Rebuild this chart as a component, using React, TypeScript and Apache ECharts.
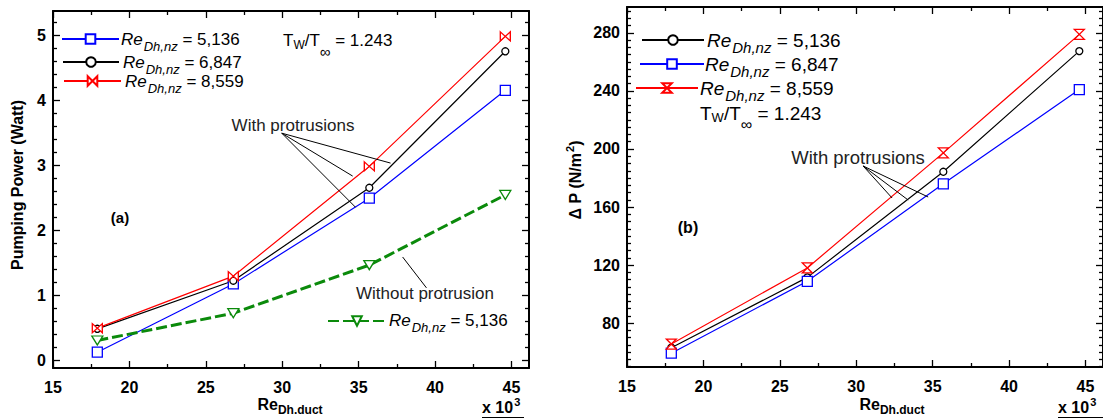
import React, { useEffect, useRef } from 'react';
import * as echarts from 'echarts';

// ---------- data ----------
const reDuct = [17.9, 26.8, 35.7, 44.6]; // Re_Dh,duct (x 10^3)

// (a) pumping power (Watt)
const powerA5136 = [0.12, 1.17, 2.49, 4.15];
const powerA6847 = [0.48, 1.22, 2.65, 4.75];
const powerA8559 = [0.49, 1.29, 2.98, 4.98];
const powerNoProt5136 = [0.3, 0.72, 1.46, 2.54];

// (b) pressure drop (N/m^2)
const dpB5136 = [63, 111.5, 184.3, 267.5];
const dpB6847 = [59.2, 108.8, 176, 241];
const dpB8559 = [65.5, 118, 197.3, 279];

// tick labels
const xTicks = [15, 20, 25, 30, 35, 40, 45];
const yTicksA = [0, 1, 2, 3, 4, 5];
const yTicksB = [80, 120, 160, 200, 240, 280];

// annotation anchors (data units) : [start, end]
const annotA_with = [
  [[29.97, 3.49], [37.09, 3.03]],
  [[29.97, 3.49], [34.61, 2.83]],
  [[29.97, 3.49], [34.8, 2.35]],
];
const annotA_without = [[[37.88, 1.585], [39.44, 1.11]]];
const annotB_with = [
  [[30.45, 188.3], [32.35, 166.2]],
  [[30.45, 188.3], [33.4, 164.8]],
  [[30.45, 188.3], [34.71, 166.9]],
];

const legendValue: Record<string, string> = {
  a5136: '5,136',
  a6847: '6,847',
  a8559: '8,559',
  aNo: '5,136',
  b5136: '5,136',
  b6847: '6,847',
  b8559: '8,559',
};

// ---------- styles ----------
const FONT = '"Liberation Sans", Arial, Helvetica, sans-serif';
const BLUE = '#0000ff';
const RED = '#ff0000';
const BLACK = '#000000';
const GREEN = '#0b8a0b';

const BOWTIE = 'path://M0,0L10,10L10,0L0,10Z';
const HOURGLASS = 'path://M0,0L10,0L0,10L10,10Z';

const X_MIN = 15;
const X_MAX = 46.15;
const YA_MIN = -0.123;
const YA_MAX = 5.37;
const YB_MIN = 49.7;
const YB_MAX = 297.9;

function minors(majors: number[], step: number, count: number, min: number, max: number) {
  const out: number[] = [];
  const ext = [majors[0] - step * (count + 1), ...majors, majors[majors.length - 1] + step * (count + 1)];
  for (const m of ext) {
    for (let k = 1; k <= count; k++) {
      const v = +(m + step * k).toFixed(4);
      if (v > min && v < max && !majors.includes(v)) out.push(v);
    }
  }
  return Array.from(new Set(out)).sort((a, b) => a - b);
}

const labelStyle = { fontFamily: FONT, fontWeight: 'bold' as const, fontSize: 16, color: '#000' };

function axisPair(
  kind: 'x' | 'y',
  gridIndex: number,
  min: number,
  max: number,
  values: number[],
  major: boolean,
  margin: number
) {
  const pos = kind === 'x' ? ['bottom', 'top'] : ['left', 'right'];
  return pos.map((p, i) => ({
    type: 'value',
    gridIndex,
    position: p,
    min,
    max,
    axisLine: { show: major, onZero: false, lineStyle: { color: '#000', width: 2 } },
    axisTick: {
      show: true,
      inside: true,
      length: major ? 7 : 4,
      customValues: values,
      lineStyle: { color: '#000', width: 1.3 },
    },
    axisLabel: {
      show: major && i === 0,
      customValues: values,
      margin,
      ...labelStyle,
    },
    splitLine: { show: false },
    minorTick: { show: false },
  }));
}

// legend: icon drawn by the legend component, label drawn as rich graphic text
function legendFor(name: string, left: number, lineY: number, width: number) {
  return {
    show: true,
    data: [name],
    left,
    top: lineY - 6,
    orient: 'vertical',
    padding: 0,
    itemWidth: width,
    itemHeight: 12,
    selectedMode: false,
    formatter: () => '',
  };
}

function richRe(big: number, small: number, drop: number) {
  return {
    a: { fontFamily: FONT, fontSize: big, fontStyle: 'italic', fill: '#000', lineHeight: big + 3 },
    b: { fontFamily: FONT, fontSize: small, fontStyle: 'italic', fill: '#000', lineHeight: small + 1, padding: [drop, 0, 0, 1] },
    c: { fontFamily: FONT, fontSize: big, fill: '#000', lineHeight: big + 3 },
  };
}
const richReA = richRe(17, 13, 14);
const richReB = richRe(19, 15, 15);

function legendText(name: string, x: number, y: number, rich: any) {
  return txt(x, y, `{a|Re}{b|Dh,nz}{c| = ${legendValue[name]}}`, { align: 'left', rich });
}

function lineSeries(
  name: string,
  values: number[],
  color: string,
  symbol: string,
  symbolSize: number | number[],
  gridAxis: number,
  extra: any = {}
) {
  return {
    name,
    type: 'line',
    xAxisIndex: gridAxis,
    yAxisIndex: gridAxis,
    data: reDuct.map((x, i) => [x, values[i]]),
    symbol,
    symbolSize,
    symbolKeepAspect: false,
    showAllSymbol: true,
    lineStyle: { color, width: 1.2 },
    itemStyle: { color: '#ffffff', borderColor: color, borderWidth: 1.3 },
    emphasis: { disabled: true },
    ...extra,
  };
}

function annot(pairs: number[][][]) {
  return {
    silent: true,
    symbol: ['none', 'none'],
    label: { show: false },
    lineStyle: { color: '#000', width: 1, type: 'solid' },
    emphasis: { disabled: true },
    data: pairs.map(([a, b]) => [{ coord: a }, { coord: b }]),
  };
}

function txt(x: number, y: number, text: string, style: any = {}, extra: any = {}) {
  return {
    type: 'text',
    x,
    y,
    silent: true,
    ...extra,
    style: {
      text,
      fill: '#000',
      fontFamily: FONT,
      fontSize: 17,
      align: 'center',
      verticalAlign: 'middle',
      ...style,
    },
  };
}

function twRich(big: number, s: number, inf: number, k: number) {
  return {
    t: { fontFamily: FONT, fontSize: big, fill: '#000', lineHeight: big + 3 },
    s: { fontFamily: FONT, fontSize: s, fill: '#000', lineHeight: s, padding: [Math.round(9 * k), 0, 0, 0] },
    i: { fontFamily: FONT, fontSize: inf, fill: '#000', lineHeight: inf - 1, padding: [Math.round(22 * k), 0, 0, 0] },
  };
}
const twRichA = twRich(17, 12, 15, 1);
const twRichB = twRich(19, 13, 16, 1.05);

const axRich = {
  b: { fontFamily: FONT, fontSize: 16, fontWeight: 'bold', fill: '#000', lineHeight: 20 },
  s: { fontFamily: FONT, fontSize: 12, fontWeight: 'bold', fill: '#000', lineHeight: 14, padding: [11, 0, 0, 0] },
  p: { fontFamily: FONT, fontSize: 11, fontWeight: 'bold', fill: '#000', lineHeight: 12, padding: [0, 0, 10, 1] },
};

export default function App() {
  const ref = useRef<HTMLDivElement>(null);
  useEffect(() => {
    if (!ref.current) return;
    const chart = echarts.init(ref.current, undefined, { renderer: 'svg' });

    const xMinor = minors(xTicks, 2.5, 1, X_MIN, X_MAX);
    const yMinorA = minors(yTicksA, 0.2, 4, YA_MIN, YA_MAX);
    const yMinorB = minors(yTicksB, 5, 7, YB_MIN, YB_MAX);

    const gridA = { left: 53, top: 11, width: 476, height: 357, containLabel: false };
    const gridB = { left: 627, top: 7, width: 476, height: 360, containLabel: false };

    const option: any = {
      animation: false,
      backgroundColor: '#ffffff',
      grid: [gridA, { ...gridA }, gridB, { ...gridB }],
      xAxis: [
        ...axisPair('x', 0, X_MIN, X_MAX, xTicks, true, 11),
        ...axisPair('x', 1, X_MIN, X_MAX, xMinor, false, 11),
        ...axisPair('x', 2, X_MIN, X_MAX, xTicks, true, 11),
        ...axisPair('x', 3, X_MIN, X_MAX, xMinor, false, 11),
      ],
      yAxis: [
        ...axisPair('y', 0, YA_MIN, YA_MAX, yTicksA, true, 7),
        ...axisPair('y', 1, YA_MIN, YA_MAX, yMinorA, false, 7),
        ...axisPair('y', 2, YB_MIN, YB_MAX, yTicksB, true, 7),
        ...axisPair('y', 3, YB_MIN, YB_MAX, yMinorB, false, 7),
      ],
      legend: [
        legendFor('a5136', 61, 39, 57),
        legendFor('a6847', 62, 62, 56),
        legendFor('a8559', 63, 81, 57),
        legendFor('aNo', 327, 321, 58),
        legendFor('b5136', 641, 40, 62),
        legendFor('b6847', 639, 64, 64),
        legendFor('b8559', 635, 88, 62),
      ],
      series: [
        lineSeries('a5136', powerA5136, BLUE, 'rect', 10, 0),
        lineSeries('a6847', powerA6847, BLACK, 'circle', 7, 0, { markLine: annot(annotA_with) }),
        lineSeries('a8559', powerA8559, RED, BOWTIE, [10, 9], 0),
        lineSeries('aNo', powerNoProt5136, GREEN, 'triangle', [11, 9], 0, {
          symbolRotate: 180,
          lineStyle: { color: GREEN, width: 3, type: [11, 4] },
          markLine: annot(annotA_without),
        }),
        lineSeries('b5136', dpB5136, BLACK, 'circle', 7, 4, { markLine: annot(annotB_with) }),
        lineSeries('b6847', dpB6847, BLUE, 'rect', 10, 4),
        lineSeries('b8559', dpB8559, RED, HOURGLASS, [10, 10], 4),
      ],
      graphic: [
        legendText('a5136', 121, 39, richReA),
        legendText('a6847', 123, 62, richReA),
        legendText('a8559', 125, 81, richReA),
        legendText('aNo', 389, 320, richReA),
        legendText('b5136', 707, 40, richReB),
        legendText('b6847', 705, 64, richReB),
        legendText('b8559', 700, 88, richReB),
        txt(283, 40, '{t|T}{s|W}{t|/T}{i|∞}{t| = 1.243}', { align: 'left', rich: twRichA }),
        txt(700, 113, '{t|T}{s|W}{t|/T}{i|∞}{t| = 1.243}', { align: 'left', rich: twRichB }),
        txt(293, 125, 'With protrusions', { fill: '#222' }),
        txt(858, 157, 'With protrusions', { fill: '#222', fontSize: 18.5 }),
        txt(425, 293, 'Without protrusion', { fill: '#222' }),
        txt(120, 217, '(a)', { fontWeight: 'bold', fontSize: 15 }),
        txt(688, 227, '(b)', { fontWeight: 'bold', fontSize: 16 }),
        txt(17, 185, 'Pumping Power (Watt)', { fontWeight: 'bold', fontSize: 16 }, { rotation: Math.PI / 2 }),
        txt(575, 180, '{b|Δ P (N/m}{p|2}{b|)}', { rich: axRich }, { rotation: Math.PI / 2 }),
        txt(290, 404, '{b|Re}{s|Dh.duct}', { rich: axRich }),
        txt(892, 404, '{b|Re}{s|Dh.duct}', { rich: axRich }),
        txt(482, 407, '{b|x 10}{p|3}', { align: 'left', rich: axRich }),
        txt(1058, 407, '{b|x 10}{p|3}', { align: 'left', rich: axRich }),
        { type: 'line', silent: true, shape: { x1: 482, y1: 417.5, x2: 524, y2: 417.5 }, style: { stroke: '#000', lineWidth: 1.2 } },
        { type: 'line', silent: true, shape: { x1: 1058, y1: 417.5, x2: 1103, y2: 417.5 }, style: { stroke: '#000', lineWidth: 1.2 } },
      ],
    };
    chart.setOption(option);
    return () => chart.dispose();
  }, []);

  return (
    <div
      ref={ref}
      style={{ position: 'fixed', left: 0, top: 0, width: 1103, height: 419, background: '#fff' }}
    />
  );
}
